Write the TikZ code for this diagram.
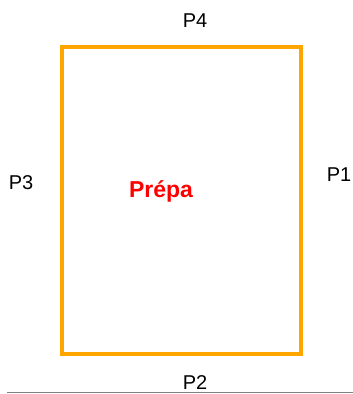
\documentclass[tikz,border=0pt]{standalone}
\usepackage{fontspec}
\setmainfont{Liberation Sans}
\begin{document}
\begin{tikzpicture}[x=1pt,y=1pt,
  lbl/.style={inner sep=0pt,anchor=base,font=\fontsize{20}{23}\selectfont},
  title/.style={inner sep=0pt,anchor=base,text=red,font=\fontsize{23}{27}\selectfont\bfseries},
  frame/.style={draw={rgb,255:red,255;green,165;blue,0},line width=4pt}]
\useasboundingbox (0,0) rectangle (353,394);
\draw[frame] (61.5,40) rectangle (301,347);
\coordinate (l0) at (7,1);
\coordinate (l1) at (353,1);
\draw[gray,line width=1pt] (l0) -- (l1);
\node[lbl] (p4) at (195,366) {P4};
\node[lbl] (p3) at (21,204) {P3};
\node[lbl] (p1) at (339,212) {P1};
\node[lbl] (p2) at (195,5) {P2};
\node[title] (prepa) at (161,196) {Prépa};
\end{tikzpicture}
\end{document}
